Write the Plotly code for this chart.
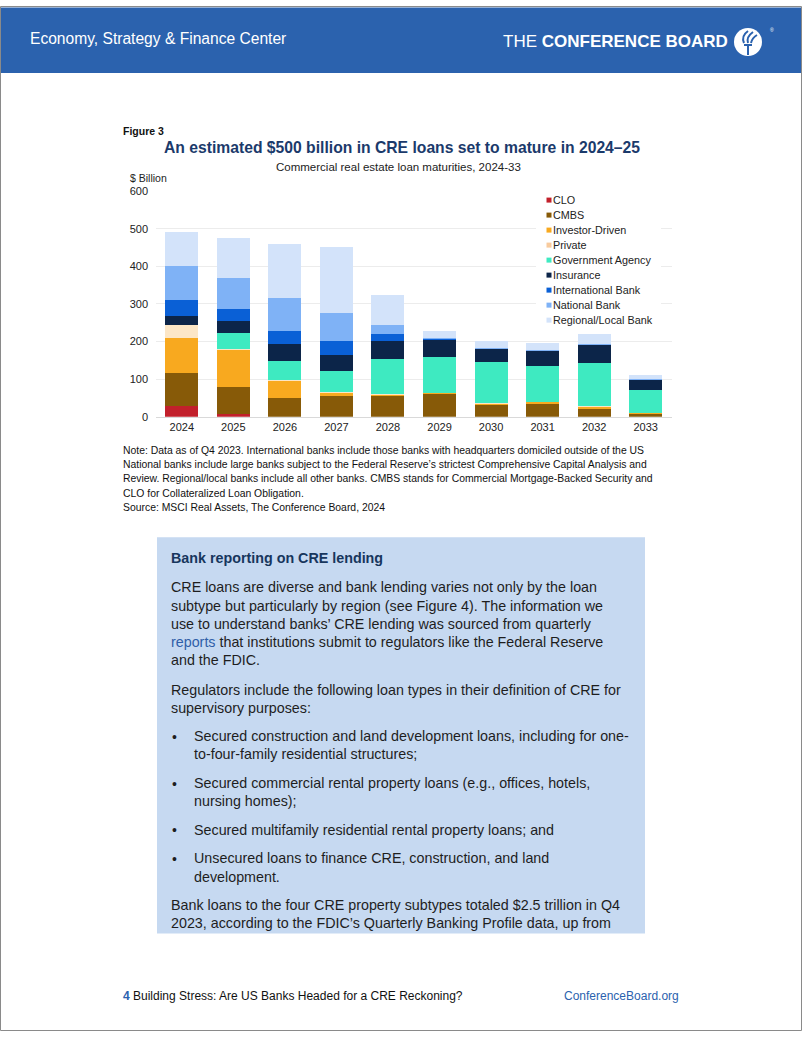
import plotly.graph_objects as go

W, H = 802, 1037

years = ["2024", "2025", "2026", "2027", "2028", "2029", "2030", "2031", "2032", "2033"]
series_names = ["CLO", "CMBS", "Investor-Driven", "Private", "Government Agency",
                "Insurance", "International Bank", "National Bank", "Regional/Local Bank"]
clo        = [28, 8, 0, 0, 0, 0, 0, 0, 0, 0]
cmbs       = [88, 70, 49, 54, 56, 62, 31, 35, 20, 7]
investor   = [93, 101, 47, 9, 3, 2, 4, 4, 7, 3]
private    = [35, 2, 1, 2, 1, 0, 1, 1, 1, 0]
government = [0, 42, 52, 57, 94, 95, 109, 94, 114, 62]
insurance  = [24, 32, 45, 43, 48, 46, 36, 41, 49, 26]
intl_bank  = [43, 31, 33, 35, 17, 3, 1, 1, 1, 1]
national   = [89, 83, 88, 77, 25, 2, 1, 1, 1, 1]
regional   = [90, 105, 144, 175, 79, 18, 17, 19, 28, 10]
y_ticks = [0, 100, 200, 300, 400, 500, 600]

series_values = [clo, cmbs, investor, private, government, insurance, intl_bank, national, regional]
colors = ["#C2202B", "#875A08", "#F8A91F", "#FCE6C6", "#3EEAC1",
          "#0C2549", "#0A60D6", "#7FB2F6", "#D3E3FA"]
legend_colors = ["#C2202B", "#875A08", "#F8A91F", "#F8CB9E", "#3EEAC1",
                 "#0C2549", "#0A60D6", "#7FB2F6", "#D3E3FA"]

FONT = "Arial, 'Liberation Sans', sans-serif"

# vertical calibration of the captured page
VA, VB = 0.988, 5.0


def px(x):
    return x / W


def py(y):
    yl = (y - VB) / VA
    return 1 - yl / H


fig = go.Figure()
for name, vals, col in zip(series_names, series_values, colors):
    fig.add_trace(go.Bar(x=years, y=vals, name=name, marker=dict(color=col, line=dict(width=0)),
                         showlegend=False))

shapes = []
annotations = []


def text(x, y, s, size, color="#222222", anchor="left", yanchor="middle"):
    annotations.append(dict(x=px(x), y=py(y), xref="paper", yref="paper", text=s,
                            showarrow=False, xanchor=anchor, yanchor=yanchor,
                            borderpad=0, borderwidth=0,
                            font=dict(family=FONT, size=size, color=color), align=anchor))


def rect(x0, y0, x1, y1, fill, line=None, layer="below", lw=0):
    shapes.append(dict(type="rect", xref="paper", yref="paper", x0=px(x0), y0=py(y1),
                       x1=px(x1), y1=py(y0), fillcolor=fill, layer=layer,
                       line=dict(width=lw, color=line or fill)))


# page border and header band
shapes.append(dict(type="rect", xref="paper", yref="paper", x0=px(1), x1=px(801),
                   y0=py(72), y1=1 - 1.5 / H, fillcolor="#2B62AE", layer="below", line=dict(width=0)))
shapes.append(dict(type="rect", xref="paper", yref="paper", x0=px(0.5), x1=px(801.5),
                   y0=0.5 / H, y1=1 - 0.5 / H, fillcolor="rgba(0,0,0,0)", layer="above",
                   line=dict(width=1, color="#8A8A8A")))
text(30, 37, "Economy, Strategy & Finance Center", 15.6, "#FFFFFF")
text(728, 40, "THE <b>CONFERENCE BOARD</b>", 17, "#FFFFFF", anchor="right")
# logo
shapes.append(dict(type="circle", xref="paper", yref="paper", x0=px(734), x1=px(762),
                   y0=py(55), y1=py(27), fillcolor="#FFFFFF", line=dict(width=0), layer="above"))
for path in ["M {a},{b} L {c},{d}".format(a=px(748), b=py(44), c=px(748), d=py(54)),
             "M {a},{b} L {c},{d}".format(a=px(744), b=py(44), c=px(752), d=py(44))]:
    shapes.append(dict(type="path", xref="paper", yref="paper", path=path,
                       line=dict(color="#2B62AE", width=2), layer="above"))
for (x0, y0, x1, y1, x2, y2) in [(744, 42, 741, 35, 748, 30), (748, 42, 746, 36, 753, 31),
                                 (751, 42, 752, 37, 757, 34)]:
    path = "M {},{} Q {},{} {},{}".format(px(x0), py(y0), px(x1), py(y1), px(x2), py(y2))
    shapes.append(dict(type="path", xref="paper", yref="paper", path=path,
                       line=dict(color="#2B62AE", width=2), layer="above"))
text(770, 29, "®", 5, "#FFFFFF")

# chart titles
text(123, 130, "<b>Figure 3</b>", 10.5, "#111111")
text(402, 146, "<b>An estimated $500 billion in CRE loans set to mature in 2024–25</b>", 15.7,
     "#1B3A6B", anchor="center")
text(398, 166, "Commercial real estate loan maturities, 2024-33", 11.5, "#222222", anchor="center")
text(130, 177, "$ Billion", 10.5, "#222222")

# legend
rect(536, 192, 661, 328, "#FFFFFF", layer="above")
for i, (name, col) in enumerate(zip(series_names, legend_colors)):
    yy = 199 + i * 15
    rect(546.5, yy - 2.5, 551.5, yy + 2.5, col, layer="above")
    text(553, yy, name, 10.8, "#222222")

# notes
notes = [
    "Note: Data as of Q4 2023. International banks include those banks with headquarters domiciled outside of the US",
    "National banks include large banks subject to the Federal Reserve’s strictest Comprehensive Capital Analysis and",
    "Review. Regional/local banks include all other banks. CMBS stands for Commercial Mortgage-Backed Security and",
    "CLO for Collateralized Loan Obligation.",
    "Source: MSCI Real Assets, The Conference Board, 2024",
]
for i, n in enumerate(notes):
    text(123, 449.5 + i * 14.1, n, 10.4, "#111111")

# text box
rect(157, 536, 645, 932, "#C6D9F1")
text(171, 557, "<b>Bank reporting on CRE lending</b>", 14.3, "#17365D")
body = [
    (586, 171, "CRE loans are diverse and bank lending varies not only by the loan"),
    (604.3, 171, "subtype but particularly by region (see Figure 4). The information we"),
    (622.5, 171, "use to understand banks’ CRE lending was sourced from quarterly"),
    (641, 171, "<span style='color:#2F5EA8'>reports</span> that institutions submit to regulators like the Federal Reserve"),
    (659, 171, "and the FDIC."),
    (688.3, 171, "Regulators include the following loan types in their definition of CRE for"),
    (706.5, 171, "supervisory purposes:"),
    (735, 194, "Secured construction and land development loans, including for one-"),
    (753, 194, "to-four-family residential structures;"),
    (782, 194, "Secured commercial rental property loans (e.g., offices, hotels,"),
    (800, 194, "nursing homes);"),
    (828.5, 194, "Secured multifamily residential rental property loans; and"),
    (857, 194, "Unsecured loans to finance CRE, construction, and land"),
    (875.3, 194, "development."),
    (903.5, 171, "Bank loans to the four CRE property subtypes totaled $2.5 trillion in Q4"),
    (922, 171, "2023, according to the FDIC’s Quarterly Banking Profile data, up from"),
]
for y, x, s in body:
    text(x, y, s, 14.3, "#1E1E1E")
for y in [735, 782, 828.5, 857]:
    text(171.5, y + 0.5, "•", 14, "#1E1E1E")

# footer
text(123, 995, "<b><span style='color:#2B62AE'>4</span></b> Building Stress: Are US Banks Headed for a CRE Reckoning?",
     12, "#111111")
text(679, 995, "ConferenceBoard.org", 12, "#2B62AE", anchor="right")

fig.update_layout(
    width=W, height=H, margin=dict(l=0, r=0, t=0, b=0),
    paper_bgcolor="#FFFFFF", plot_bgcolor="#FFFFFF",
    barmode="stack", bargap=0.36, showlegend=False,
    font=dict(family=FONT, color="#222222"),
    shapes=shapes, annotations=annotations,
    xaxis=dict(domain=[px(156), px(671.5)], showgrid=False, showline=True, linecolor="#D9D9D9",
               linewidth=1, ticks="", tickfont=dict(size=11, color="#222222"), fixedrange=True),
    yaxis=dict(domain=[py(415.5), py(190)], range=[0, 600], tickvals=y_ticks,
               showgrid=True, gridcolor="#ECECEC", gridwidth=1, zeroline=False,
               showline=False, ticks="", ticklabelstandoff=7,
               tickfont=dict(size=11, color="#222222"), fixedrange=True),
)

fig.write_html("out.html", config={"displayModeBar": False},
               post_script="document.body.style.margin='0px';document.body.style.padding='0px';")
